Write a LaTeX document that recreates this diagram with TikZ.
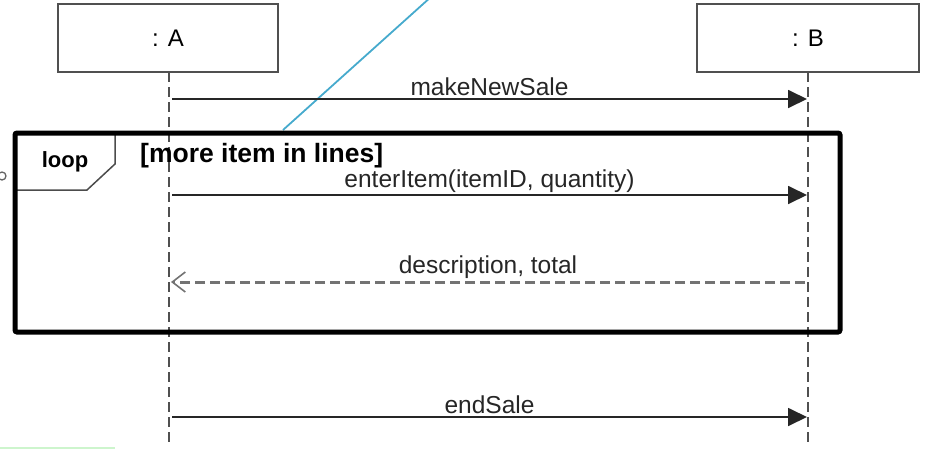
\documentclass[tikz,border=0pt]{standalone}
\usepackage{fontspec}
\setmainfont{Liberation Sans}
\usepackage{tikz}
\usetikzlibrary{arrows.meta}
\definecolor{lifegray}{RGB}{80,80,80}
\definecolor{linkblue}{RGB}{70,170,205}
\definecolor{palegreen}{RGB}{205,245,205}

\begin{document}
\begin{tikzpicture}[x=1pt,y=-1pt,
    obj/.style={draw=lifegray,line width=1.5pt,minimum width=220pt,minimum height=68pt,font=\fontsize{24}{28}\selectfont},
    life/.style={lifegray,line width=1.8pt,dash pattern=on 10pt off 5pt},
    msg/.style={black!85,line width=1.8pt,-{Triangle[length=19pt,width=18pt]}},
    ret/.style={draw=black!55,line width=3pt,dash pattern=on 10pt off 5pt,-{Straight Barb[length=13pt,width=20pt,line width=1.6pt]}},
    lbl/.style={above,inner sep=2pt,text=black!85,font=\fontsize{24.5}{28}\selectfont}]

\useasboundingbox (0,0) rectangle (928,450);

\node[obj] (A) at (168,38) {: A};
\node[obj,minimum width=222pt] (B) at (808,38) {: B};
\coordinate (a0) at (169,72);
\coordinate (b0) at (808,72);
\coordinate (a9) at (169,446);
\coordinate (b9) at (808,446);
\draw[life] (a0) -- (a9);
\draw[life] (b0) -- (b9);

\draw[linkblue,line width=1.8pt] (283,130) -- (432,-4);

\coordinate (a1) at (172,99);
\coordinate (b1) at (807,99);
\coordinate (a2) at (172,195);
\coordinate (b2) at (807,195);
\coordinate (a3) at (171,282);
\coordinate (b3) at (805,282);
\coordinate (a4) at (172,417);
\coordinate (b4) at (807,417);

\draw[msg] (a1) -- node[lbl] {makeNewSale} (b1);
\draw[msg] (a2) -- node[lbl] {enterItem(itemID, quantity)} (b2);
\draw[ret] (b3) -- node[lbl] {description, total} (a3);
\draw[msg] (a4) -- node[lbl] {endSale} (b4);

\draw[black!70,line width=1.5pt] (15,133) -- (115,133) -- (115,164) -- (87,190) -- (15,190);
\node[font=\bfseries\fontsize{22}{26}\selectfont] (loop) at (65,162) {loop};
\node[anchor=west,inner sep=0pt,font=\bfseries\fontsize{26.5}{30}\selectfont] (guard) at (140,156) {[more item in lines]};
\draw[black,line width=5pt,rounded corners=2pt] (15,133) rectangle (840,332);

\draw[black!60,line width=1.3pt] (2,176) circle (4);
\draw[palegreen,line width=2pt] (0,448) -- (115,448);

\end{tikzpicture}
\end{document}
